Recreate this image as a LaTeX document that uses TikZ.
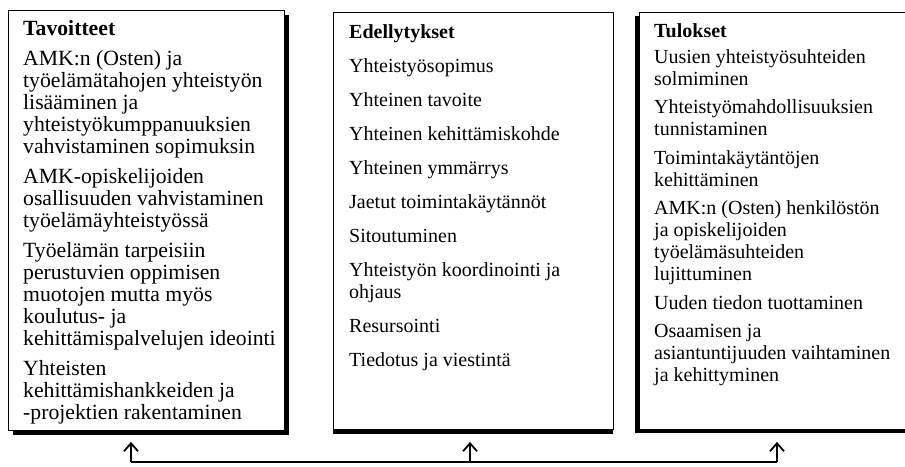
\documentclass[tikz,border=0pt]{standalone}
\usepackage{fontspec}
\setmainfont{Liberation Serif}
\usetikzlibrary{arrows.meta,shadows}
\tikzset{
  box/.style={draw=black, line width=0.9pt, fill=white, rectangle, inner sep=0pt, anchor=north west},
  txt/.style={anchor=base west, align=left, inner sep=0pt},
  conn/.style={draw=black, line width=1.3pt},
  arr/.style={draw=black, line width=1.8pt, -{Straight Barb[length=8pt,width=14pt,line width=1.8pt]}},
}
\begin{document}
\begin{tikzpicture}[x=1pt,y=-1pt]
\useasboundingbox (0,0) rectangle (905,466);
% boxes
\node[box, minimum width=276pt, minimum height=420pt,
  general shadow={fill=black, shadow xshift=5pt, shadow yshift=-5pt}] (tav) at (8,10) {};
\node[box, minimum width=280pt, minimum height=417pt,
  general shadow={fill=black, shadow xshift=0pt, shadow yshift=-5pt}] (ede) at (333,12) {};
\node[box, minimum width=280pt, minimum height=417pt,
  general shadow={fill=black, shadow xshift=-4pt, shadow yshift=-4pt}] (tul) at (639,12) {};
% texts (anchored at the baseline of their last line)
\node[txt, font=\fontsize{21.7}{22}\selectfont] (tavtxt) at (23,419) {%
\textbf{Tavoitteet}\\[8pt]
AMK:n (Osten) ja\\
työelämätahojen yhteistyön\\
lisääminen ja\\
yhteistyökumppanuuksien\\
vahvistaminen sopimuksin\\[8pt]
AMK-opiskelijoiden\\
osallisuuden vahvistaminen\\
työelämäyhteistyössä\\[8pt]
Työelämän tarpeisiin\\
perustuvien oppimisen\\
muotojen mutta myös\\
koulutus- ja\\
kehittämispalvelujen ideointi\\[8pt]
Yhteisten\\
kehittämishankkeiden ja\\
-projektien rakentaminen};
\node[txt, font=\fontsize{20}{22}\selectfont] (edetxt) at (349,366) {%
\textbf{Edellytykset}\\[12pt]
Yhteistyösopimus\\[12pt]
Yhteinen tavoite\\[12pt]
Yhteinen kehittämiskohde\\[12pt]
Yhteinen ymmärrys\\[12pt]
Jaetut toimintakäytännöt\\[12pt]
Sitoutuminen\\[12pt]
Yhteistyön koordinointi ja\\
ohjaus\\[12pt]
Resursointi\\[12pt]
Tiedotus ja viestintä};
\node[txt, font=\fontsize{20}{22}\selectfont] (tultxt) at (654,381.5) {%
\textbf{Tulokset}\\[4pt]
Uusien yhteistyösuhteiden\\
solmiminen\\[6.5pt]
Yhteistyömahdollisuuksien\\
tunnistaminen\\[6.5pt]
Toimintakäytäntöjen\\
kehittäminen\\[6.5pt]
AMK:n (Osten) henkilöstön\\
ja opiskelijoiden\\
työelämäsuhteiden\\
lujittuminen\\[6.5pt]
Uuden tiedon tuottaminen\\[6.5pt]
Osaamisen ja\\
asiantuntijuuden vaihtaminen\\
ja kehittyminen};
% connectors
\coordinate (j1) at (131,462);
\coordinate (j2) at (470,462);
\coordinate (j3) at (777,462);
\draw[conn] (j1) -- (j3);
\draw[arr, shorten >=11pt] (j1) -- (j1 |- tav.south);
\draw[arr, shorten >=12pt] (j2) -- (j2 |- ede.south);
\draw[arr, shorten >=12pt] (j3) -- (j3 |- tul.south);
\end{tikzpicture}
\end{document}
